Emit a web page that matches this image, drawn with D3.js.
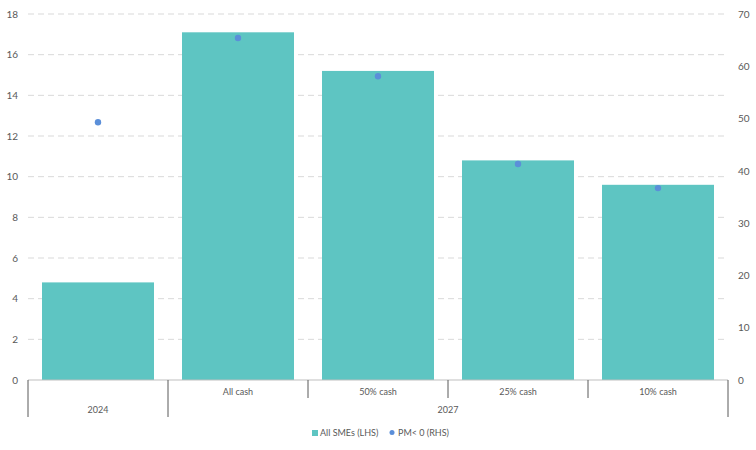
<!DOCTYPE html><html><head><meta charset="utf-8"><script src="https://cdn.jsdelivr.net/npm/d3@7"></script>
<style>body{margin:0;background:#fff}text{font-family:Lato,sans-serif;fill:#595959}</style></head><body><svg id="c" width="756" height="450"></svg><script>
const categories=["2024","All cash","50% cash","25% cash","10% cash"];
const groups=[{name:"2024",from:0,to:1},{name:"2027",from:1,to:5}];
const barValues=[4.8,17.1,15.2,10.8,9.6];
const dotValues=[49.3,65.4,58.1,41.3,36.7];
const leftTicks=[0,2,4,6,8,10,12,14,16,18];
const rightTicks=[0,10,20,30,40,50,60,70];
const svg=d3.select("#c");
const L=28,R=728,T=14,B=380;
const x=d3.scaleBand().domain(categories).range([L,R]).paddingInner(0.2).paddingOuter(0.1);
const y=d3.scaleLinear().domain([0,18]).range([B,T]);
const y2=d3.scaleLinear().domain([0,70]).range([B,T]);
svg.append("g").selectAll("line").data(leftTicks.filter(d=>d>0)).join("line")
 .attr("x1",L).attr("x2",R).attr("y1",d=>y(d)).attr("y2",d=>y(d)).attr("stroke","#d9d9d9").attr("stroke-dasharray","6,4");
svg.append("g").attr("transform",`translate(${L},0)`).call(d3.axisLeft(y).tickValues(leftTicks).tickSize(0).tickPadding(10))
 .call(g=>g.select(".domain").remove()).selectAll("text").style("font-size","10px").attr("fill","#595959");
svg.append("g").attr("transform",`translate(${R},0)`).call(d3.axisRight(y2).tickValues(rightTicks).tickSize(0).tickPadding(10))
 .call(g=>g.select(".domain").remove()).selectAll("text").style("font-size","10px").attr("fill","#595959");
svg.append("g").selectAll("rect").data(categories).join("rect")
 .attr("x",d=>x(d)).attr("width",x.bandwidth()).attr("y",(d,i)=>y(barValues[i])).attr("height",(d,i)=>B-y(barValues[i])).attr("fill","#5ec5c2");
svg.append("g").selectAll("circle").data(categories).join("circle")
 .attr("cx",d=>x(d)+x.bandwidth()/2).attr("cy",(d,i)=>y2(dotValues[i])).attr("r",3.2).attr("fill","#5b8fd9");
const step=x.step();
const g=svg.append("g").attr("stroke","#595959");
g.append("line").attr("x1",L).attr("x2",R).attr("y1",B).attr("y2",B).attr("stroke","#bfbfbf");
const edges=d3.range(categories.length+1).map(i=>L+i*(R-L)/categories.length);
const groupEdges=new Set(groups.flatMap(gr=>[gr.from,gr.to]));
edges.forEach((e,i)=>g.append("line").attr("x1",e).attr("x2",e).attr("y1",B).attr("y2",groupEdges.has(i)?417:398));
categories.forEach((c,i)=>{if(i>0)svg.append("text").attr("x",x(c)+x.bandwidth()/2).attr("y",395).attr("text-anchor","middle").style("font-size","9px").text(c);});
groups.forEach(gr=>svg.append("text").attr("x",(edges[gr.from]+edges[gr.to])/2).attr("y",413).attr("text-anchor","middle").style("font-size","9px").text(gr.name));
svg.append("rect").attr("x",312).attr("y",430).attr("width",6).attr("height",6).attr("fill","#5ec5c2");
svg.append("text").attr("x",320).attr("y",436).style("font-size","9px").text("All SMEs (LHS)");
svg.append("circle").attr("cx",392).attr("cy",432.5).attr("r",2.5).attr("fill","#5b8fd9");
svg.append("text").attr("x",398).attr("y",436).style("font-size","9px").text("PM< 0 (RHS)");
</script></body></html>
